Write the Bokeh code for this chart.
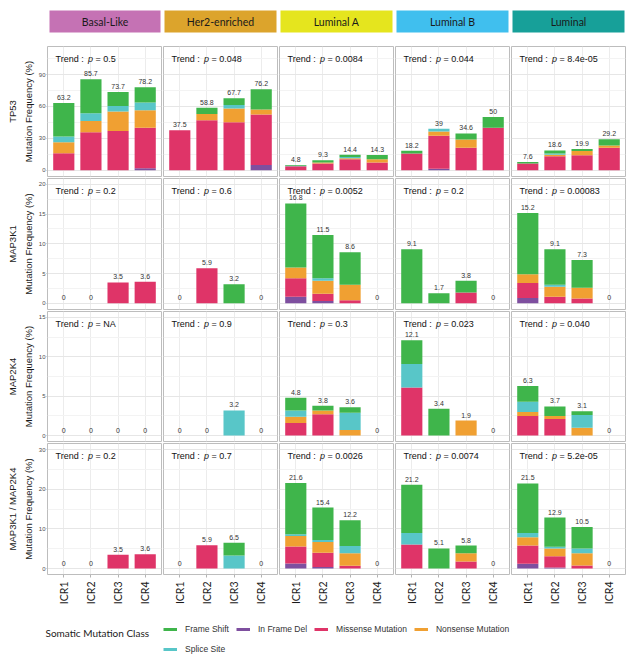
import math
from bokeh.plotting import figure
from bokeh.models import (Range1d, FixedTicker, LinearAxis, Grid, Label,
                          ColumnDataSource, Legend, LegendItem)
from bokeh.layouts import column, row
from bokeh.core.properties import value
from bokeh.embed import file_html
from bokeh.resources import INLINE

# ---------------- data ----------------
subtypes = ["Basal-Like", "Her2-enriched", "Luminal A", "Luminal B", "Luminal"]
genes = ["TP53", "MAP3K1", "MAP2K4", "MAP3K1 / MAP2K4"]
icr = ["ICR1", "ICR2", "ICR3", "ICR4"]
stack_order = ["In Frame Del", "Missense Mutation", "Nonsense Mutation", "Splice Site", "Frame Shift"]
legend_order = ["Frame Shift", "In Frame Del", "Missense Mutation", "Nonsense Mutation", "Splice Site"]

# each list: one row per subtype, values for ICR1..ICR4
tp53_frame_shift = [[31.6, 32.2, 13.2, 14.5], [0, 5.8, 6.4, 19.0], [0.6, 2.1, 2.1, 4.1], [2.6, 0, 5.7, 10.0], [1.3, 2.9, 1.9, 5.9]]
tp53_in_frame_del = [[0, 0, 0, 1.8], [0, 0, 0, 4.8], [0, 0, 0, 0], [0, 1.3, 0, 0], [0, 0, 0, 0]]
tp53_missense = [[15.8, 35.7, 36.8, 38.2], [37.5, 47.1, 45.2, 47.6], [3.6, 6.2, 10.3, 7.1], [15.6, 31.2, 21.2, 40.0], [6.3, 13.0, 14.0, 21.1]]
tp53_nonsense = [[10.5, 10.7, 18.4, 16.4], [0, 5.9, 12.9, 4.8], [0, 1.0, 1.0, 3.1], [0, 3.9, 7.7, 0], [0, 1.4, 4.0, 2.2]]
tp53_splice = [[5.3, 7.1, 5.3, 7.3], [0, 0, 3.2, 0], [0.6, 0, 1.0, 0], [0, 2.6, 0, 0], [0, 1.3, 0, 0]]
tp53_totals = [[63.2, 85.7, 73.7, 78.2], [37.5, 58.8, 67.7, 76.2], [4.8, 9.3, 14.4, 14.3], [18.2, 39, 34.6, 50], [7.6, 18.6, 19.9, 29.2]]
tp53_p = ["0.5", "0.048", "0.0084", "0.044", "8.4e-05"]

map3k1_frame_shift = [[0, 0, 0, 0], [0, 0, 3.2, 0], [10.8, 7.3, 5.5, 0], [9.1, 1.7, 2.0, 0], [10.3, 6.0, 4.7, 0]]
map3k1_in_frame_del = [[0, 0, 0, 0], [0, 0, 0, 0], [1.1, 0.4, 0, 0], [0, 0, 0, 0], [0.9, 0, 0, 0]]
map3k1_missense = [[0, 0, 3.5, 3.6], [0, 5.9, 0, 0], [3.1, 1.2, 0.5, 0], [0, 0, 1.8, 0], [2.5, 1.1, 0.8, 0]]
map3k1_nonsense = [[0, 0, 0, 0], [0, 0, 0, 0], [1.8, 2.2, 2.6, 0], [0, 0, 0, 0], [1.5, 1.7, 1.8, 0]]
map3k1_splice = [[0, 0, 0, 0], [0, 0, 0, 0], [0, 0.4, 0, 0], [0, 0, 0, 0], [0, 0.3, 0, 0]]
map3k1_totals = [[0, 0, 3.5, 3.6], [0, 5.9, 3.2, 0], [16.8, 11.5, 8.6, 0], [9.1, 1.7, 3.8, 0], [15.2, 9.1, 7.3, 0]]
map3k1_p = ["0.2", "0.6", "0.0052", "0.2", "0.00083"]

map2k4_frame_shift = [[0, 0, 0, 0], [0, 0, 0, 0], [1.6, 0.6, 0.7, 0], [3.0, 3.4, 0, 0], [2.0, 1.2, 0.5, 0]]
map2k4_in_frame_del = [[0, 0, 0, 0], [0, 0, 0, 0], [0, 0, 0, 0], [0, 0, 0, 0], [0, 0, 0, 0]]
map2k4_missense = [[0, 0, 0, 0], [0, 0, 0, 0], [1.6, 2.7, 0, 0], [6.1, 0, 0, 0], [2.5, 2.1, 0, 0]]
map2k4_nonsense = [[0, 0, 0, 0], [0, 0, 0, 0], [0.8, 0.5, 0.7, 0], [0, 0, 1.9, 0], [0.5, 0.4, 1.0, 0]]
map2k4_splice = [[0, 0, 0, 0], [0, 0, 3.2, 0], [0.8, 0, 2.2, 0], [3.0, 0, 0, 0], [1.3, 0, 1.6, 0]]
map2k4_totals = [[0, 0, 0, 0], [0, 0, 3.2, 0], [4.8, 3.8, 3.6, 0], [12.1, 3.4, 1.9, 0], [6.3, 3.7, 3.1, 0]]
map2k4_p = ["NA", "0.9", "0.3", "0.023", "0.040"]

both_frame_shift = [[0, 0, 0, 0], [0, 0, 3.2, 0], [12.9, 8.2, 6.5, 0], [12.2, 5.1, 1.9, 0], [12.5, 7.4, 5.4, 0]]
both_in_frame_del = [[0, 0, 0, 0], [0, 0, 0, 0], [1.3, 0.4, 0, 0], [0, 0, 0, 0], [1.2, 0.3, 0, 0]]
both_missense = [[0, 0, 3.5, 3.6], [0, 5.9, 0, 0], [4.3, 3.6, 0.7, 0], [6.1, 0, 1.8, 0], [4.6, 2.8, 0.8, 0]]
both_nonsense = [[0, 0, 0, 0], [0, 0, 0, 0], [2.6, 2.7, 3.2, 0], [0, 0, 2.1, 0], [2.1, 2.0, 3.1, 0]]
both_splice = [[0, 0, 0, 0], [0, 0, 3.3, 0], [0.5, 0.5, 1.8, 0], [2.9, 0, 0, 0], [1.1, 0.4, 1.2, 0]]
both_totals = [[0, 0, 3.5, 3.6], [0, 5.9, 6.5, 0], [21.6, 15.4, 12.2, 0], [21.2, 5.1, 5.8, 0], [21.5, 12.9, 10.5, 0]]
both_p = ["0.2", "0.7", "0.0026", "0.0074", "5.2e-05"]

y_ticks = [[0, 30, 60, 90], [0, 5, 10, 15, 20], [0, 5, 10, 15], [0, 10, 20, 30]]
y_minor = [[15, 45, 75, 105], [2.5, 7.5, 12.5, 17.5], [2.5, 7.5, 12.5], [5, 15, 25]]

gene_data = [
    {"Frame Shift": tp53_frame_shift, "In Frame Del": tp53_in_frame_del, "Missense Mutation": tp53_missense,
     "Nonsense Mutation": tp53_nonsense, "Splice Site": tp53_splice},
    {"Frame Shift": map3k1_frame_shift, "In Frame Del": map3k1_in_frame_del, "Missense Mutation": map3k1_missense,
     "Nonsense Mutation": map3k1_nonsense, "Splice Site": map3k1_splice},
    {"Frame Shift": map2k4_frame_shift, "In Frame Del": map2k4_in_frame_del, "Missense Mutation": map2k4_missense,
     "Nonsense Mutation": map2k4_nonsense, "Splice Site": map2k4_splice},
    {"Frame Shift": both_frame_shift, "In Frame Del": both_in_frame_del, "Missense Mutation": both_missense,
     "Nonsense Mutation": both_nonsense, "Splice Site": both_splice},
]
gene_totals = [tp53_totals, map3k1_totals, map2k4_totals, both_totals]
gene_p = [tp53_p, map3k1_p, map2k4_p, both_p]

# ---------------- style ----------------
strip_colors = ["#c572b4", "#dca42c", "#e5e51e", "#40bfee", "#17a099"]
class_colors = {"Frame Shift": "#3fb54b", "In Frame Del": "#7e4f9f", "Missense Mutation": "#df3468",
                "Nonsense Mutation": "#f0a032", "Splice Site": "#58c6c8"}
y_ranges = [(-6.0, 116.5), (-1.05, 21.0), (-0.75, 15.75), (-1.5, 31.6)]
frame_h = [130, 131, 130, 131]
FRAME_W = 114
LEFT0 = 47
BORDER = "#bdbdbd"
SANS = "Liberation Sans"
CAL = "Lato"


def fmt(v):
    return f"{v:g}"


def panel(gi, si):
    first = si == 0
    last = gi == len(genes) - 1
    lo, hi = y_ranges[gi]
    fh = frame_h[gi]
    left = LEFT0 if first else 1
    bottom = 40 if last else 1
    p = figure(width=left + FRAME_W + 1, height=1 + fh + bottom,
               x_range=Range1d(0.4, 4.6), y_range=Range1d(lo, hi),
               x_axis_location="below" if last else None,
               y_axis_location="left" if first else None,
               toolbar_location=None, tools="", output_backend="svg",
               min_border_left=left, min_border_right=1, min_border_top=1,
               min_border_bottom=bottom)
    p.grid.visible = False
    p.outline_line_color = BORDER
    p.outline_line_width = 1
    p.background_fill_color = "white"
    p.border_fill_color = "white"
    p.add_layout(Grid(dimension=0, ticker=FixedTicker(ticks=[1, 2, 3, 4]),
                      grid_line_color="#ececec", grid_line_width=1))
    p.add_layout(Grid(dimension=1, ticker=FixedTicker(ticks=y_ticks[gi], minor_ticks=y_minor[gi]),
                      grid_line_color="#e6e6e6", grid_line_width=1,
                      minor_grid_line_color="#f3f3f3", minor_grid_line_width=1))

    src = dict(x=[1, 2, 3, 4])
    for c in stack_order:
        src[c] = gene_data[gi][c][si]
    p.vbar_stack(stack_order, x="x", width=0.78, source=ColumnDataSource(src),
                 fill_color=[class_colors[c] for c in stack_order], line_color=None)

    uy = (hi - lo) / fh
    ux = 4.2 / FRAME_W
    tots = gene_totals[gi][si]
    p.text(x=[1, 2, 3, 4], y=[t + 3 * uy for t in tots], text=[fmt(t) for t in tots],
           text_align="center", text_baseline="bottom",
           text_font=value(SANS), text_font_size="7px", text_color="#333333")

    ty = hi - 12 * uy
    x0 = 0.4 + 8 * ux
    for txt, dx, style in (("Trend :", 0, "normal"), ("p", 32.5, "italic"),
                           ("= " + gene_p[gi][si], 40, "normal")):
        p.add_layout(Label(x=x0 + dx * ux, y=ty, text=txt, text_baseline="middle",
                           text_align="left", text_font=SANS, text_font_size="9px",
                           text_font_style=style, text_color="#111111"))

    if first:
        ya = p.yaxis[0]
        ya.ticker = FixedTicker(ticks=y_ticks[gi])
        ya.axis_label = "Mutation Frequency (%)"
        ya.axis_label_text_font = SANS
        ya.axis_label_text_font_size = "9.5px"
        ya.axis_label_text_font_style = "normal"
        ya.axis_label_text_color = "#1a1a1a"
        ya.axis_label_standoff = 2
        ya.major_label_text_font = SANS
        ya.major_label_text_font_size = "6px"
        ya.major_label_text_color = "#4d4d4d"
        ya.major_label_standoff = 1
        ya.major_tick_out = 1
        ya.major_tick_in = 0
        ya.major_tick_line_color = "#b3b3b3"
        ya.minor_tick_line_color = None
        ya.axis_line_color = None
        extra = LinearAxis(ticker=FixedTicker(ticks=[]), axis_label=genes[gi],
                           axis_label_text_font=SANS, axis_label_text_font_size="9.5px",
                           axis_label_text_font_style="normal", axis_label_text_color="#1a1a1a",
                           axis_label_standoff=2, axis_line_color=None,
                           major_tick_line_color=None, minor_tick_line_color=None,
                           major_label_text_font_size="0px")
        p.add_layout(extra, "left")
    if last:
        xa = p.xaxis[0]
        xa.ticker = FixedTicker(ticks=[1, 2, 3, 4])
        xa.major_label_overrides = {i + 1: lab for i, lab in enumerate(icr)}
        xa.major_label_orientation = math.pi / 2
        xa.major_label_text_font = CAL
        xa.major_label_text_font_size = "10.5px"
        xa.major_label_text_color = "#1a1a1a"
        xa.major_label_standoff = 4
        xa.major_tick_out = 3
        xa.major_tick_in = 0
        xa.major_tick_line_color = "#b3b3b3"
        xa.minor_tick_line_color = None
        xa.axis_line_color = None
    return p


def header(si):
    first = si == 0
    left = LEFT0 + 2 if first else 2
    fw = FRAME_W - 3 if first else FRAME_W - 2
    right = (LEFT0 + FRAME_W + 1) - left - fw if first else 2
    h = figure(width=left + fw + right, height=45, x_range=Range1d(0, 1), y_range=Range1d(0, 1),
               x_axis_location=None, y_axis_location=None, toolbar_location=None, tools="",
               output_backend="svg", min_border_left=left, min_border_right=right,
               min_border_top=10, min_border_bottom=13)
    h.grid.visible = False
    h.background_fill_color = strip_colors[si]
    h.outline_line_color = None
    h.border_fill_color = "white"
    h.add_layout(Label(x=0.5, y=0.5, text=subtypes[si], text_align="center",
                       text_baseline="middle", text_font=CAL, text_font_size="10.5px",
                       text_color="#1a1a1a"))
    return h


rows = [row(*[header(s) for s in range(len(subtypes))])]
for g in range(len(genes)):
    rows.append(row(*[panel(g, s) for s in range(len(subtypes))]))

# ---------------- legend ----------------
LW = LEFT0 + FRAME_W + 1 + 4 * (FRAME_W + 2)
LH = 49
lf = figure(width=LW, height=LH, x_range=Range1d(0, LW), y_range=Range1d(0, LH),
            x_axis_location=None, y_axis_location=None, toolbar_location=None, tools="",
            output_backend="svg", min_border_left=0, min_border_right=0,
            min_border_top=0, min_border_bottom=0)
lf.grid.visible = False
lf.outline_line_color = None
rends = {c: lf.line(x=[math.nan], y=[math.nan], line_color=class_colors[c], line_width=3)
         for c in legend_order}
common = dict(orientation="horizontal", padding=0, margin=0, spacing=7, label_standoff=8,
              glyph_width=14, glyph_height=14, label_height=14, label_text_font=SANS,
              label_text_font_size="8.5px", label_text_color="#333333",
              border_line_color=None, background_fill_alpha=0)
leg1 = Legend(items=[LegendItem(label=c, renderers=[rends[c]]) for c in legend_order[:4]],
              location=(163, 27), **common)
leg2 = Legend(items=[LegendItem(label=c, renderers=[rends[c]]) for c in legend_order[4:]],
              location=(163, 7), **common)
lf.add_layout(leg1)
lf.add_layout(leg2)
lf.add_layout(Label(x=45, y=31, text="Somatic Mutation Class", text_baseline="middle",
                    text_font=CAL, text_font_size="10px", text_color="#1a1a1a"))
rows.append(lf)

layout = column(*rows)
open("out.html", "w").write(file_html(layout, INLINE))
